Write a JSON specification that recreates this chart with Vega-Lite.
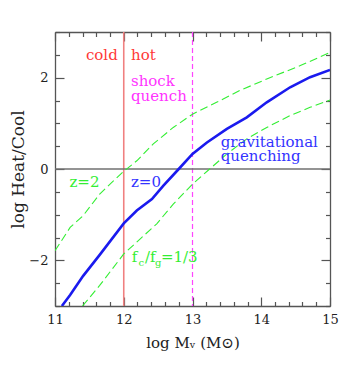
{
  "$schema": "https://vega.github.io/schema/vega-lite/v6.json",
  "autosize": "none",
  "width": 275,
  "height": 274,
  "padding": {"left": 55, "top": 32, "right": 31, "bottom": 69},
  "background": "white",
  "config": {
    "view": {"stroke": null},
    "font": "DejaVu Serif",
    "axis": {"grid": false, "labelOverlap": false, "domainColor": "#555555", "domainWidth": 1.3, "tickColor": "#555555", "tickWidth": 1.2, "labelFont": "DejaVu Serif", "titleFont": "DejaVu Serif", "labelColor": "#222222", "titleColor": "#222222", "titleFontWeight": "normal"}
  },
  "datasets": {
    "blue": [
      {"x": 11.10, "y": -3.0}, {"x": 11.22, "y": -2.76}, {"x": 11.41, "y": -2.34}, {"x": 11.65, "y": -1.88},
      {"x": 12.0, "y": -1.19}, {"x": 12.19, "y": -0.91}, {"x": 12.41, "y": -0.66}, {"x": 12.58, "y": -0.36},
      {"x": 12.80, "y": 0.0}, {"x": 13.0, "y": 0.33}, {"x": 13.21, "y": 0.58}, {"x": 13.50, "y": 0.88},
      {"x": 13.79, "y": 1.13}, {"x": 14.08, "y": 1.46}, {"x": 14.42, "y": 1.79}, {"x": 14.71, "y": 2.01},
      {"x": 15.0, "y": 2.17}
    ],
    "green": [
      {"s": "z2", "x": 11.0, "y": -1.79}, {"s": "z2", "x": 11.22, "y": -1.28}, {"s": "z2", "x": 11.41, "y": -1.02},
      {"s": "z2", "x": 11.65, "y": -0.55}, {"s": "z2", "x": 11.85, "y": -0.26}, {"s": "z2", "x": 12.0, "y": -0.05},
      {"s": "z2", "x": 12.19, "y": 0.18}, {"s": "z2", "x": 12.43, "y": 0.55}, {"s": "z2", "x": 12.72, "y": 0.91},
      {"s": "z2", "x": 13.0, "y": 1.20}, {"s": "z2", "x": 13.35, "y": 1.46}, {"s": "z2", "x": 13.69, "y": 1.72},
      {"s": "z2", "x": 14.08, "y": 1.97}, {"s": "z2", "x": 14.56, "y": 2.26}, {"s": "z2", "x": 15.0, "y": 2.55},
      {"s": "fc", "x": 11.40, "y": -3.0}, {"s": "fc", "x": 11.65, "y": -2.55}, {"s": "fc", "x": 12.0, "y": -1.86},
      {"s": "fc", "x": 12.24, "y": -1.53}, {"s": "fc", "x": 12.48, "y": -1.20}, {"s": "fc", "x": 12.72, "y": -0.77},
      {"s": "fc", "x": 13.0, "y": -0.33}, {"s": "fc", "x": 13.25, "y": 0.0}, {"s": "fc", "x": 13.50, "y": 0.33},
      {"s": "fc", "x": 13.79, "y": 0.66}, {"s": "fc", "x": 14.08, "y": 0.91}, {"s": "fc", "x": 14.42, "y": 1.17},
      {"s": "fc", "x": 14.71, "y": 1.35}, {"s": "fc", "x": 15.0, "y": 1.51}
    ],
    "ann": [
      {"t": "cold", "c": "red", "x": 11.45, "y": 2.39},
      {"t": "hot", "c": "red", "x": 12.105, "y": 2.39},
      {"t": "shock", "c": "magenta", "x": 12.105, "y": 1.82},
      {"t": "quench", "c": "magenta", "x": 12.105, "y": 1.49},
      {"t": "gravitational", "c": "blue", "x": 13.41, "y": 0.49},
      {"t": "quenching", "c": "blue", "x": 13.41, "y": 0.17},
      {"t": "z=2", "c": "green", "x": 11.21, "y": -0.40},
      {"t": "z=0", "c": "blue", "x": 12.105, "y": -0.40},
      {"t": "f", "c": "green", "x": 12.115, "y": -2.03},
      {"t": "/f", "c": "green", "x": 12.31, "y": -2.03},
      {"t": "=1/3", "c": "green", "x": 12.54, "y": -2.03}
    ],
    "sub": [
      {"t": "c", "x": 12.215, "y": -2.13},
      {"t": "g", "x": 12.455, "y": -2.13}
    ]
  },
  "layer": [
    {
      "data": {"values": [{"x": 12}]},
      "mark": {"type": "rule", "color": "#f08080", "strokeWidth": 1.6},
      "encoding": {"x": {"field": "x", "type": "quantitative", "scale": {"domain": [11, 15], "nice": false, "zero": false}, "axis": null}}
    },
    {
      "data": {"values": [{"x": 13}]},
      "mark": {"type": "rule", "color": "#ff44ff", "strokeWidth": 1.2, "strokeDash": [5, 3]},
      "encoding": {"x": {"field": "x", "type": "quantitative", "axis": null}}
    },
    {
      "data": {"values": [{"y": 0}]},
      "mark": {"type": "rule", "color": "#707070", "strokeWidth": 1.3},
      "encoding": {"y": {"field": "y", "type": "quantitative", "scale": {"domain": [-3, 3], "nice": false, "zero": false}, "axis": null}}
    },
    {
      "data": {"name": "green"},
      "mark": {"type": "line", "color": "#33ee33", "strokeWidth": 1.1, "strokeDash": [8, 4], "clip": true},
      "encoding": {
        "x": {"field": "x", "type": "quantitative", "axis": {"orient": "top", "values": [11,11.2,11.4,11.6,11.8,12,12.2,12.4,12.6,12.8,13,13.2,13.4,13.6,13.8,14,14.2,14.4,14.6,14.8,15], "labels": false, "title": null, "tickSize": {"condition": {"test": "datum.value % 1 === 0", "value": -9}, "value": -4.5}}},
        "y": {"field": "y", "type": "quantitative", "axis": {"orient": "right", "values": [-3,-2.5,-2,-1.5,-1,-0.5,0,0.5,1,1.5,2,2.5,3], "labels": false, "title": null, "tickSize": {"condition": {"test": "datum.value % 2 === 0", "value": -9}, "value": -4.5}}},
        "detail": {"field": "s"}
      }
    },
    {
      "data": {"name": "blue"},
      "mark": {"type": "line", "color": "#1a1aee", "strokeWidth": 2.6, "clip": true},
      "encoding": {
        "x": {"field": "x", "type": "quantitative", "title": "log Mᵥ (M⊙)", "axis": {"orient": "bottom", "values": [11,11.2,11.4,11.6,11.8,12,12.2,12.4,12.6,12.8,13,13.2,13.4,13.6,13.8,14,14.2,14.4,14.6,14.8,15], "labelExpr": "datum.value % 1 === 0 ? format(datum.value, 'd') : ''", "labelFontSize": 13, "labelPadding": 16, "titleFontSize": 15, "titlePadding": 5, "labelFlush": false, "tickSize": {"condition": {"test": "datum.value % 1 === 0", "value": -9}, "value": -4.5}}},
        "y": {"field": "y", "type": "quantitative", "title": "log Heat/Cool", "axis": {"orient": "left", "values": [-3,-2.5,-2,-1.5,-1,-0.5,0,0.5,1,1.5,2,2.5,3], "labelExpr": "datum.value % 2 === 0 && abs(datum.value) < 3 ? format(datum.value, 'd') : ''", "labelFontSize": 13, "labelPadding": 16, "titleFontSize": 17, "titlePadding": 1, "tickSize": {"condition": {"test": "datum.value % 2 === 0", "value": -9}, "value": -4.5}}}
      }
    },
    {
      "data": {"name": "ann"},
      "mark": {"type": "text", "align": "left", "baseline": "alphabetic", "fontSize": 15},
      "encoding": {
        "x": {"field": "x", "type": "quantitative", "axis": null},
        "y": {"field": "y", "type": "quantitative", "axis": null},
        "text": {"field": "t"},
        "color": {"field": "c", "type": "nominal", "legend": null, "scale": {"domain": ["red", "magenta", "blue", "green"], "range": ["#ff3838", "#ff33ff", "#3333ff", "#33ee33"]}}
      }
    },
    {
      "data": {"name": "sub"},
      "mark": {"type": "text", "align": "left", "baseline": "alphabetic", "fontSize": 10, "color": "#33ee33"},
      "encoding": {
        "x": {"field": "x", "type": "quantitative", "axis": null},
        "y": {"field": "y", "type": "quantitative", "axis": null},
        "text": {"field": "t"}
      }
    }
  ],
  "resolve": {"axis": {"x": "independent", "y": "independent"}}
}
